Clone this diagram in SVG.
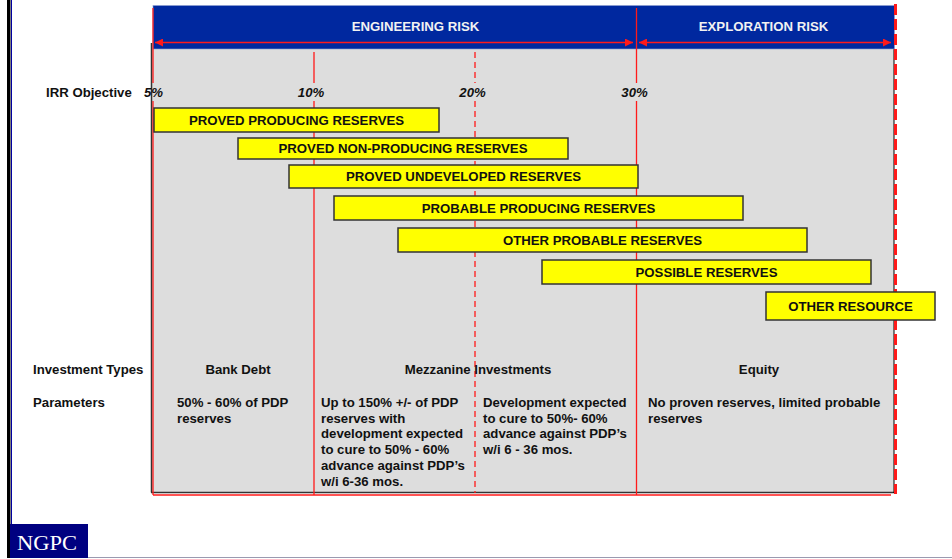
<svg xmlns="http://www.w3.org/2000/svg" width="952" height="559" viewBox="0 0 952 559">
<defs>
<style>
text{font-family:"Liberation Sans",Arial,sans-serif;font-weight:bold;font-size:13.2px;fill:#111}
.hd{fill:#F2F2F2;text-anchor:middle}
.pct{font-style:italic;text-anchor:middle}
.bar rect{fill:#FFFF00;stroke:#333;stroke-width:1.5}
.bar text{text-anchor:middle}
.red{stroke:#FF1A1A;stroke-width:1.3;fill:none}
.mid{text-anchor:middle}
</style>
<marker id="ah" viewBox="0 0 10 10" refX="10" refY="5" markerWidth="8" markerHeight="8" markerUnits="userSpaceOnUse" orient="auto-start-reverse">
<path d="M0,0 L10,5 L0,10 Z" fill="#FF1A1A"/>
</marker>
</defs>
<rect width="952" height="559" fill="#fff"/>
<!-- page frame -->
<rect x="7" y="0" width="3.5" height="558" fill="#000"/>
<line x1="11.5" y1="0" x2="11.5" y2="524" stroke="#0000A0" stroke-width="1"/>
<line x1="10" y1="557.5" x2="952" y2="557.5" stroke="#9A9AB0" stroke-width="1.2"/>
<g id="logo">
<rect x="10" y="524" width="78" height="34" fill="#000080"/>
<text x="17" y="549.5" style="font-family:'Liberation Serif','Times New Roman',serif;font-weight:normal;font-size:21px;fill:#fff" textLength="60" lengthAdjust="spacingAndGlyphs">NGPC</text>
</g>
<!-- panel -->
<g id="panel">
<rect x="151.5" y="43" width="742.5" height="449" fill="#DDDDDD"/>
<line x1="151.5" y1="43" x2="151.5" y2="492.5" stroke="#333" stroke-width="1.5"/>
<line x1="151" y1="492.5" x2="894" y2="492.5" stroke="#333" stroke-width="1.5"/>
<line x1="894" y1="49" x2="894" y2="493" stroke="#000" stroke-width="1"/>
<line x1="153" y1="495" x2="891" y2="495" class="red"/>
</g>
<g id="header">
<rect x="153" y="5.5" width="741.5" height="43.5" fill="#00289F" stroke="#8FA0D0" stroke-width="0.6"/>
<text class="hd" x="415.5" y="30.5">ENGINEERING RISK</text>
<text class="hd" x="763.5" y="30.5">EXPLORATION RISK</text>
</g>
<!-- grid lines -->
<g id="grid">
<line class="red" x1="153" y1="8" x2="153" y2="83"/>
<line class="red" x1="153" y1="101" x2="153" y2="495"/>
<line class="red" x1="314" y1="52" x2="314" y2="83"/>
<line class="red" x1="314" y1="101" x2="314" y2="495"/>
<line class="red" x1="475" y1="52" x2="475" y2="83" stroke-dasharray="6 4"/>
<line class="red" x1="475" y1="101" x2="475" y2="493" stroke-dasharray="6 4"/>
<line class="red" x1="636.5" y1="8" x2="636.5" y2="83"/>
<line class="red" x1="636.5" y1="101" x2="636.5" y2="495"/>
<line x1="895.5" y1="4" x2="895.5" y2="494" stroke="#FF1A1A" stroke-width="3" stroke-dasharray="11 4"/>
</g>
<g id="connectors">
<line x1="155" y1="42.5" x2="633" y2="42.5" stroke="#FF1A1A" stroke-width="1.6" marker-start="url(#ah)" marker-end="url(#ah)"/>
<line x1="639" y1="42.5" x2="891" y2="42.5" stroke="#FF1A1A" stroke-width="1.6" marker-start="url(#ah)" marker-end="url(#ah)"/>
</g>
<g id="axis">
<text x="46" y="96.7">IRR Objective</text>
<text class="pct" x="153.5" y="96.7">5%</text>
<text class="pct" x="311" y="96.7">10%</text>
<text class="pct" x="472.5" y="96.7">20%</text>
<text class="pct" x="634.5" y="96.7">30%</text>
</g>
<g id="bar-pdp" class="bar"><rect x="154" y="108" width="285" height="24"/><text x="296.5" y="124.7">PROVED PRODUCING RESERVES</text></g>
<g id="bar-pnp" class="bar"><rect x="238" y="138" width="330" height="21"/><text x="403" y="153.2">PROVED NON-PRODUCING RESERVES</text></g>
<g id="bar-pud" class="bar"><rect x="289" y="165" width="349" height="23"/><text x="463.5" y="181.2">PROVED UNDEVELOPED RESERVES</text></g>
<g id="bar-prp" class="bar"><rect x="334" y="196" width="409" height="24"/><text x="538.5" y="212.7">PROBABLE PRODUCING RESERVES</text></g>
<g id="bar-opr" class="bar"><rect x="398" y="228" width="409" height="24"/><text x="602.5" y="244.7">OTHER PROBABLE RESERVES</text></g>
<g id="bar-pos" class="bar"><rect x="542" y="260" width="329" height="24"/><text x="706.5" y="276.7">POSSIBLE RESERVES</text></g>
<g id="bar-oth" class="bar"><rect x="766" y="292" width="169" height="28"/><text x="850.5" y="310.7">OTHER RESOURCE</text></g>
<g id="investment">
<text x="33" y="373.7">Investment Types</text>
<text x="33" y="406.7">Parameters</text>
<text class="mid" x="238" y="373.7">Bank Debt</text>
<text class="mid" x="478" y="373.7">Mezzanine Investments</text>
<text class="mid" x="759" y="373.7">Equity</text>
<text x="177" y="406.7">50% - 60% of PDP</text>
<text x="177" y="422.5">reserves</text>
<text x="321" y="406.7">Up to 150% +/- of PDP</text>
<text x="321" y="422.5">reserves with</text>
<text x="321" y="438.3">development expected</text>
<text x="321" y="454.1">to cure to 50% - 60%</text>
<text x="321" y="469.9">advance against PDP’s</text>
<text x="321" y="485.7">w/i 6-36 mos.</text>
<text x="483" y="406.7">Development expected</text>
<text x="483" y="422.5">to cure to 50%- 60%</text>
<text x="483" y="438.3">advance against PDP’s</text>
<text x="483" y="454.1">w/i 6 - 36 mos.</text>
<text x="648" y="406.7">No proven reserves, limited probable</text>
<text x="648" y="422.5">reserves</text>
</g>
</svg>
